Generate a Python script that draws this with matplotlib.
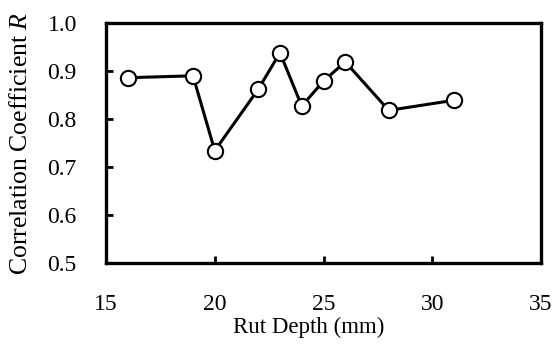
import matplotlib
matplotlib.use('Agg')
import matplotlib.pyplot as plt

# Data
rut_depth=[16,19,20,22,23,24,25,26,28,31]
corr_r=[0.886,0.890,0.734,0.862,0.938,0.827,0.879,0.919,0.818,0.839]

plt.rcParams['font.family']='Liberation Serif'
plt.rcParams['mathtext.fontset']='custom'
plt.rcParams['mathtext.rm']='Liberation Serif'
plt.rcParams['mathtext.it']='Liberation Serif:italic'

fig=plt.figure(figsize=(5.55,3.5),dpi=100)
# axes box in pixels: left 106, right 541, top 23, bottom 263
ax=fig.add_axes([106/555,1-263/350,435/555,240/350])

ax.plot(rut_depth,corr_r,'k-',linewidth=2.2,marker='o',markersize=11,
        markerfacecolor='white',markeredgecolor='black',markeredgewidth=1.5)

ax.set_xlim(15,35)
ax.set_ylim(0.5,1.0)
ax.set_xticks([15,20,25,30,35])
ax.set_yticks([0.5,0.6,0.7,0.8,0.9,1.0])
ax.set_yticklabels(['0.5','0.6','0.7','0.8','0.9','1.0'])
ax.tick_params(direction='in',length=5,width=2,labelsize=17,colors='black')
ax.tick_params(axis='y',pad=21)
ax.tick_params(axis='x',pad=22)
for s in ax.spines.values():
    s.set_linewidth(2.4)

ax.set_xlabel('Rut Depth (mm)',fontsize=16.5)
ax.xaxis.set_label_coords(0.467,-0.225)
ax.set_ylabel('Correlation Coefficient $R$',fontsize=18.5,labelpad=11)

fig.savefig('out.png',dpi=100)
